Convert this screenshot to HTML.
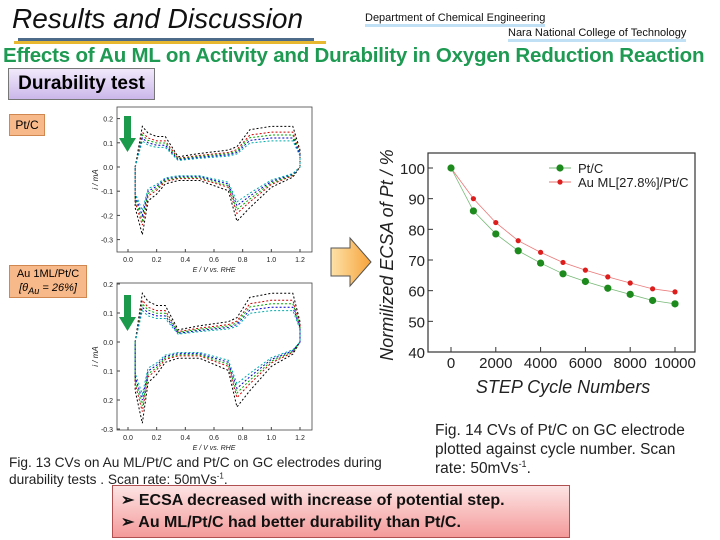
<!DOCTYPE html>
<html><head><meta charset="utf-8"><style>
body{margin:0;width:720px;height:540px;background:#fff;position:relative;overflow:hidden;font-family:"Liberation Sans",sans-serif}
.a{position:absolute;white-space:nowrap}
sup{line-height:0}
</style></head><body>
<div class="a" style="left:12px;top:3px;font-size:28px;font-style:italic;color:#111">Results and Discussion</div>
<div class="a" style="left:18px;top:38px;width:296px;height:3px;background:#4e6b8a"></div>
<div class="a" style="left:14px;top:41px;width:312px;height:3px;background:#e8b830"></div>
<div class="a" style="left:365px;top:12px;font-size:11px;color:#111;border-bottom:3px solid #bfe0f5">Department of Chemical Engineering</div>
<div class="a" style="left:508px;top:27px;font-size:11px;color:#111;border-bottom:3px solid #bfe0f5">Nara National College of Technology</div>
<div class="a" style="left:3px;top:44px;font-size:20.5px;font-weight:bold;color:#1e9a52;letter-spacing:-0.2px">Effects of Au ML on Activity and Durability in Oxygen Reduction Reaction</div>
<div class="a" style="left:8px;top:68px;width:145px;height:30px;border:1px solid #777;background:linear-gradient(#f1e9fb,#cbb7ea);font-size:19px;font-weight:bold;line-height:30px;text-align:center">Durability test</div>
<div class="a" style="left:9px;top:114px;width:34px;height:20px;background:#f7b98a;border:1px solid #d08850;font-size:12px;line-height:20px;text-align:center">Pt/C</div>
<div class="a" style="left:9px;top:265px;width:76px;height:30px;background:#f7b98a;border:1px solid #d08850;font-size:11px;line-height:14px;text-align:center;padding-top:1px">Au 1ML/Pt/C<br><i>[θ<sub style="line-height:0">Au</sub> = 26%]</i></div>

<svg class="a" style="left:0;top:0" width="720" height="540">
<defs><linearGradient id="og" x1="0" x2="1"><stop offset="0" stop-color="#fde2a8"/><stop offset="1" stop-color="#f6a33a"/></linearGradient></defs>
<g id="cvTop"></g>
<g id="cvBot"></g>
<polygon points="331,248 350,248 350,238 371,262 350,286 350,276 331,276" fill="url(#og)" stroke="#555" stroke-width="1"/>
<g id="main"></g>
</svg>

<div class="a" style="left:9px;top:454px;font-size:13.7px;line-height:17px;color:#222">Fig. 13 CVs on Au ML/Pt/C and Pt/C on GC electrodes during<br>durability tests . Scan rate: 50mVs<sup style="font-size:8px">-1</sup>.</div>
<div class="a" style="left:435px;top:421px;font-size:15.5px;line-height:19px;color:#222">Fig. 14 CVs of Pt/C on GC electrode<br>plotted against cycle number. Scan<br>rate: 50mVs<sup style="font-size:9px">-1</sup>.</div>
<div class="a" style="left:112px;top:485px;width:458px;height:53px;border:1px solid #b05050;background:linear-gradient(#fde4e4,#f49a9a);font-size:16px;font-weight:bold;color:#111;line-height:22px;padding:4px 0 0 8px;box-sizing:border-box">➢ ECSA decreased with increase of potential step.<br>➢ Au ML/Pt/C had better durability than Pt/C.</div>

<script>
const cycles=[0,1000,2000,3000,4000,5000,6000,7000,8000,9000,10000];
const ptc=[100,86,78.5,73,69,65.5,63,60.8,58.8,56.8,55.7];
const auml=[100,90,82.2,76.3,72.5,69.2,66.7,64.5,62.5,60.6,59.6];
const yTicks=[40,50,60,70,80,90,100];
const xTicks=[0,2000,4000,6000,8000,10000];
// CV data (E in V, I in mA)
const cvE=[0.05,0.1,0.14,0.2,0.26,0.35,0.5,0.7,0.76,0.85,1.0,1.15,1.2];
const cvAnodic=[0.0,0.12,0.1,0.09,0.09,0.03,0.04,0.05,0.06,0.11,0.12,0.12,0.05];
const cvCathodic=[-0.12,-0.2,-0.1,-0.08,-0.05,-0.04,-0.04,-0.07,-0.16,-0.12,-0.06,-0.03,0.0];
const cvScales=[1.4,1.2,1.1,1.0,0.9];
const cvColors=["#000","#c00","#0a0","#00c","#0aa"];

const NS="http://www.w3.org/2000/svg";
function mk(p,t,a){const e=document.createElementNS(NS,t);for(const k in a)e.setAttribute(k,a[k]);p.appendChild(e);return e;}
const g=document.getElementById('main');
const X=v=>451+v*(675-451)/10000, Y=v=>352-(v-40)*(352-168)/60;
let r=mk(g,'rect',{x:428,y:153,width:267,height:199,fill:'none',stroke:'#333','stroke-width':1.2});


yTicks.forEach(t=>{mk(g,'line',{x1:428,x2:433,y1:Y(t),y2:Y(t),stroke:'#333'});
 const tx=mk(g,'text',{x:425,y:Y(t)+6,'text-anchor':'end','font-size':15,fill:'#222'});tx.textContent=t;
 
 });
xTicks.forEach(t=>{mk(g,'line',{x1:X(t),x2:X(t),y1:352,y2:347,stroke:'#333'});
 const tx=mk(g,'text',{x:X(t),y:368,'text-anchor':'middle','font-size':15,fill:'#222'});tx.textContent=t;
 
 });
let xt=mk(g,'text',{x:563,y:393,'text-anchor':'middle','font-size':18,'font-style':'italic',fill:'#222'});xt.textContent='STEP Cycle Numbers';


let yt=mk(g,'text',{x:0,y:0,'text-anchor':'middle','font-size':18,'font-style':'italic',fill:'#222',transform:'translate(393,255) rotate(-90)'});yt.textContent='Normilized ECSA of Pt / %';


function series(arr,col,dot,name){
 const pl=mk(g,'polyline',{points:arr.map((v,i)=>X(cycles[i])+','+Y(v)).join(' '),fill:'none',stroke:col,'stroke-width':0.8,opacity:0.6});
 
 
 arr.forEach((v,i)=>{const c=mk(g,'circle',{cx:X(cycles[i]),cy:Y(v),r:dot,fill:col});
  
  });
}
series(auml,'#dd1c1c',2.6,'auml');
series(ptc,'#1d8a1d',3.6,'ptc');
[[168,'#1d8a1d',3.6,'Pt/C'],[182,'#dd1c1c',2.6,'Au ML[27.8%]/Pt/C']].forEach(([y,c,rr,t])=>{
 mk(g,'line',{x1:549,x2:571,y1:y,y2:y,stroke:c,opacity:0.6});mk(g,'circle',{cx:560,cy:y,r:rr,fill:c});
 const tx=mk(g,'text',{x:578,y:y+5,'font-size':13,fill:'#222'});tx.textContent=t;
 
 });

function cv(id,top,bot,yvals,ylabels,y0px,pxPer01,arrowTop){
 const p=document.getElementById(id);
 const E=v=>128+v*(300-128)/1.2, I=v=>y0px-v*pxPer01*10;
 mk(p,'rect',{x:117,y:top,width:195,height:bot-top,fill:'none',stroke:'#444','stroke-width':0.8});
 yvals.forEach((v,i)=>{mk(p,'line',{x1:117,x2:120,y1:I(v),y2:I(v),stroke:'#444'});
  const t=mk(p,'text',{x:113,y:I(v)+3,'text-anchor':'end','font-size':7,fill:'#222'});t.textContent=ylabels[i];});
 [0,0.2,0.4,0.6,0.8,1.0,1.2].forEach(v=>{mk(p,'line',{x1:E(v),x2:E(v),y1:bot,y2:bot-3,stroke:'#444'});
  const t=mk(p,'text',{x:E(v),y:bot+10,'text-anchor':'middle','font-size':7,fill:'#222'});t.textContent=v.toFixed(1);});
 let xl=mk(p,'text',{x:214,y:bot+20,'text-anchor':'middle','font-size':7,'font-style':'italic',fill:'#222'});xl.textContent='E / V vs. RHE';
 let yl=mk(p,'text',{x:0,y:0,'text-anchor':'middle','font-size':8,'font-style':'italic',fill:'#222',transform:`translate(98,${(top+bot)/2}) rotate(-90)`});yl.textContent='i / mA';
 cvScales.forEach((s,k)=>{
  const pts=cvE.map((e,i)=>E(e)+','+I(cvAnodic[i]*s)).concat(cvE.slice().reverse().map((e,i)=>E(e)+','+I(cvCathodic[cvE.length-1-i]*s)));
  const pl=mk(p,'polygon',{points:pts.join(' '),fill:'none',stroke:cvColors[k],'stroke-width':1,'stroke-dasharray':'2,2'});
  
  
 });
 const ar=mk(p,'polygon',{points:`124,${arrowTop} 131,${arrowTop} 131,${arrowTop+22} 136,${arrowTop+22} 127.5,${arrowTop+36} 119,${arrowTop+22} 124,${arrowTop+22}`,fill:'#1a9a4a'});
 
 
}
cv('cvTop',107,252,[0.2,0.1,0,-0.1,-0.2,-0.3],['0.2','0.1','0.0','-0.1','-0.2','-0.3'],167,24.2,116);
cv('cvBot',283,430,[0.2,0.1,0,-0.1,-0.2,-0.3],['0.2','0.1','0.0','0.1','0.2','-0.3'],342,29,295);
</script>
</body></html>
